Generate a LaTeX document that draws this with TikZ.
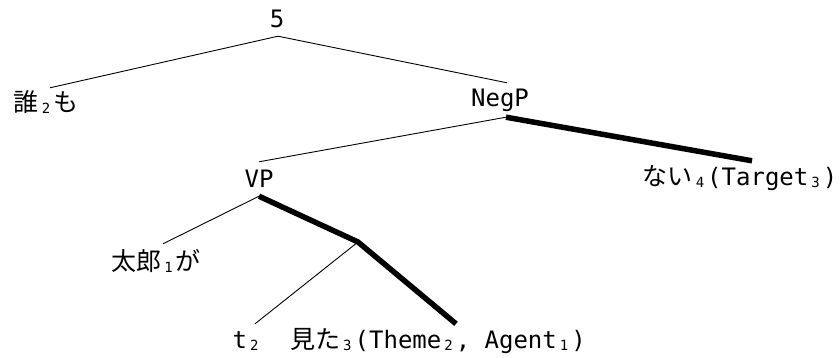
\documentclass[tikz,border=0pt]{standalone}
\usepackage{fontspec}
\setmainfont{DejaVu Sans Mono}
\newfontfamily\jpfont{Noto Sans CJK JP}
\newcommand{\ja}[1]{{\jpfont\fontsize{25}{30}\selectfont #1}}
\newcommand{\ix}[1]{\makebox[14.4pt]{\raisebox{-0.1em}{\fontsize{14}{14}\selectfont #1}}}
\begin{document}
\begin{tikzpicture}[x=1pt, y=-1pt,
    every node/.style={inner sep=0pt, minimum height=34pt, font=\fontsize{24}{28}\selectfont},
    branch/.style={line width=0.9pt},
    head/.style={line width=5.5pt}]
  \useasboundingbox (0,0) rectangle (840,358);
  \node (S) at (277,19) {5};
  \node (Dare) at (46,102) {\ja{誰}\ix{2}\ja{も}};
  \node (NegP) at (500,100) {NegP};
  \node (Nai) at (740,178) {\ja{ない}\ix{4}(Target\ix{3})};
  \node (VP) at (259,179) {VP};
  \node (Taro) at (156,261) {\ja{太郎}\ix{1}\ja{が}};
  \coordinate (Vbar) at (358,242);
  \node (T) at (247,341) {t\ix{2}};
  \node (Mita) at (438,341) {\ja{見た}\ix{3}(Theme\ix{2}, Agent\ix{1})};

  \draw[branch] ([xshift=1pt]S.south) -- ([xshift=4pt,yshift=-3pt]Dare.north);
  \draw[branch] ([xshift=1pt]S.south) -- ([xshift=7pt]NegP.north);
  \draw[branch] ([xshift=6pt]NegP.south) -- (VP.north);
  \draw[head] ([xshift=6pt]NegP.south) -- ([xshift=12pt]Nai.north);
  \draw[branch] (VP.south) -- ([xshift=7pt]Taro.north);
  \draw[head] (VP.south) -- (Vbar) -- ([xshift=18pt]Mita.north);
  \draw[branch] (Vbar) -- ([xshift=8pt]T.north);
\end{tikzpicture}
\end{document}
